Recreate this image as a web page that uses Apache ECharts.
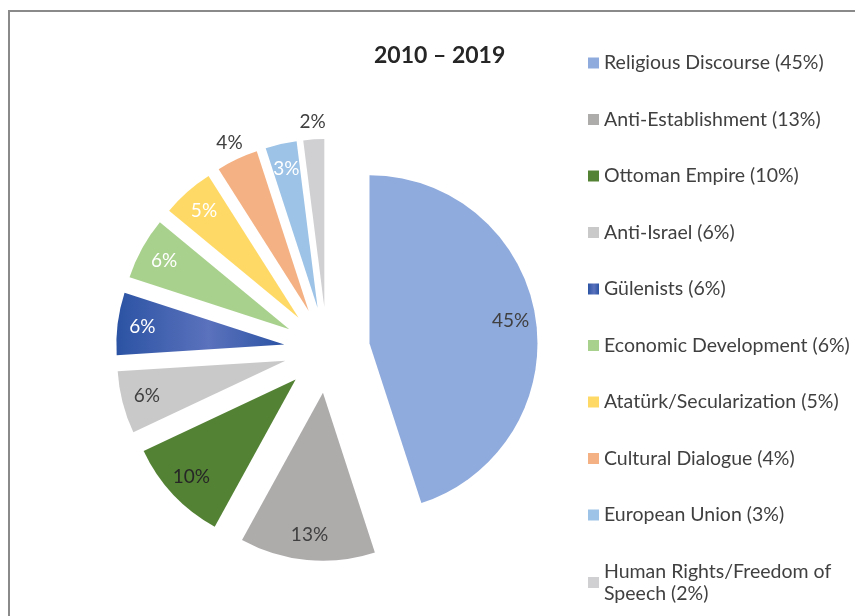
<!DOCTYPE html>
<html>
<head>
<meta charset="utf-8">
<script src="https://cdn.jsdelivr.net/npm/echarts@6/dist/echarts.min.js"></script>
<style>
  html, body { margin: 0; padding: 0; background: #fff; }
  #chart { width: 855px; height: 616px; }
</style>
</head>
<body>
<div id="chart"></div>
<script>
const names = [
  'Religious Discourse', 'Anti-Establishment', 'Ottoman Empire', 'Anti-Israel', 'Gülenists',
  'Economic Development', 'Atatürk/Secularization', 'Cultural Dialogue', 'European Union',
  'Human Rights/Freedom of Speech'
];
const values = [45, 13, 10, 6, 6, 6, 5, 4, 3, 2];
// labels that sit outside the slice (Excel best fit)
const outsideLabels = ['Cultural Dialogue', 'Human Rights/Freedom of Speech'];

const colors = [
  '#8faadc', '#aeabab', '#548235', '#c9c9c9',
  new echarts.graphic.LinearGradient(0, 0, 1, 0, [
    { offset: 0, color: '#2b53a3' },
    { offset: 0.55, color: '#5b72bd' },
    { offset: 1, color: '#2b53a3' }
  ]),
  '#a9d18e', '#ffd966', '#f4b183', '#9dc3e6', '#d0d0d2'
];
const labelColors = ['#404040', '#404040', '#262626', '#404040', '#ffffff',
  '#ffffff', '#ffffff', '#404040', '#ffffff', '#404040'];

const font = 'Lato, "Open Sans", sans-serif';
const center = [327, 350];
const offset = 43;

var myChart = echarts.init(document.getElementById('chart'));

const baseSeries = {
  type: 'pie',
  center: center,
  startAngle: 90,
  clockwise: true,
  selectedMode: 'multiple',
  selectedOffset: offset,
  avoidLabelOverlap: false,
  animation: false,
  emphasis: { disabled: true },
  labelLine: { show: false }
};

myChart.setOption({
  textStyle: { fontFamily: font },
  title: {
    text: '2010 – 2019',
    left: 369,
    top: 39,
    textStyle: { fontFamily: font, fontSize: 23, fontWeight: 'bold', color: '#262626' }
  },
  legend: {
    orient: 'vertical',
    left: 588,
    top: 52,
    height: 700,
    padding: 0,
    icon: 'rect',
    itemWidth: 11,
    itemHeight: 11,
    itemGap: 34.5,
    selectedMode: false,
    data: names,
    formatter: (name) => name + ' (' + values[names.indexOf(name)] + '%)',
    textStyle: {
      fontFamily: font,
      fontSize: 19.5,
      lineHeight: 22,
      color: '#404040',
      width: 282,
      overflow: 'break'
    }
  },
  graphic: [{
    type: 'rect',
    shape: { x: 9, y: 11, width: 900, height: 700 },
    style: { fill: 'none', stroke: '#8a8a8a', lineWidth: 2 },
    silent: true
  }],
  series: [
    Object.assign({}, baseSeries, {
      name: 'main',
      radius: [0, 168],
      label: { show: false },
      data: names.map((n, i) => ({
        name: n, value: values[i], selected: true,
        itemStyle: { color: colors[i] }
      }))
    }),
    // inside labels, placed at ~0.85 of the radius like Excel
    Object.assign({}, baseSeries, {
      name: 'inner labels',
      radius: [112, 168],
      silent: true,
      legendHoverLink: false,
      itemStyle: { color: 'rgba(0,0,0,0)' },
      label: {
        show: true, position: 'inside', formatter: '{c}%',
        fontFamily: font, fontSize: 19
      },
      data: names.map((n, i) => ({
        name: n, value: values[i], selected: true,
        label: { show: outsideLabels.indexOf(n) < 0, color: labelColors[i] }
      }))
    }),
    // outside labels just beyond the slice edge
    Object.assign({}, baseSeries, {
      name: 'outer labels',
      radius: [168, 198],
      silent: true,
      legendHoverLink: false,
      itemStyle: { color: 'rgba(0,0,0,0)' },
      label: {
        show: true, position: 'inside', formatter: '{c}%',
        fontFamily: font, fontSize: 19
      },
      data: names.map((n, i) => ({
        name: n, value: values[i], selected: true,
        label: { show: outsideLabels.indexOf(n) >= 0, color: labelColors[i] }
      }))
    })
  ]
});
</script>
</body>
</html>
